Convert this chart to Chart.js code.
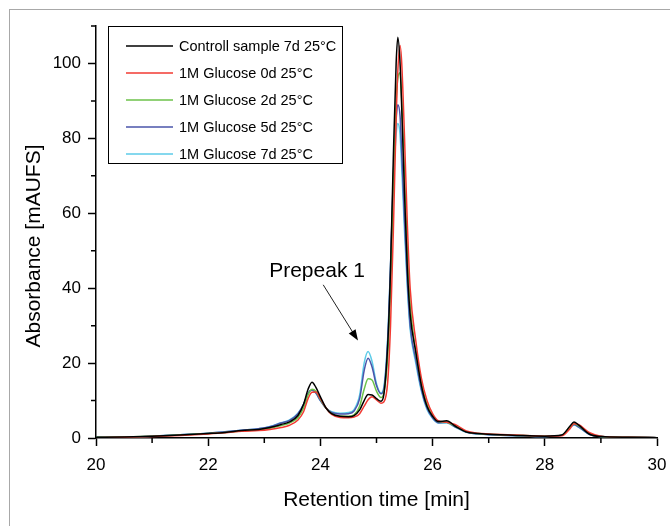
<!DOCTYPE html>
<html>
<head>
<meta charset="utf-8">
<title>Retention time chromatogram</title>
<script src="https://cdn.jsdelivr.net/npm/chart.js@4.4.1/dist/chart.umd.min.js"></script>
<style>
    html, body { margin: 0; padding: 0; background: #fff; }
    #wrap { position: relative; width: 670px; height: 526px; overflow: hidden; }
    #frame { position: absolute; left: 9px; top: 9px; width: 700px; height: 600px;
             border-left: 1.5px solid #a8a8a8; border-top: 1.5px solid #a8a8a8; }
    #myChart { position: absolute; left: 0; top: 0; }
</style>
</head>
<body>
<div id="wrap">
    <div id="frame"></div>
    <canvas id="myChart" width="670" height="526"></canvas>
</div>
<script>
const seriesLabels = ['Controll sample 7d 25°C', '1M Glucose 0d 25°C', '1M Glucose 2d 25°C', '1M Glucose 5d 25°C', '1M Glucose 7d 25°C'];
const seriesColors = ['#000000', '#f23a32', '#6cc24a', '#4a54aa', '#5ccbe8'];

// retention time [min]
const times = [20, 20.5, 21, 21.5, 22, 22.3, 22.6, 22.9, 23.1, 23.3, 23.45, 23.6, 23.7, 23.78, 23.85, 23.92, 24.0, 24.1, 24.2, 24.35, 24.5, 24.6, 24.7, 24.78, 24.85, 24.92, 25.0, 25.08, 25.13, 25.2, 25.25, 25.3, 25.35, 25.38, 25.42, 25.45, 25.5, 25.55, 25.6, 25.7, 25.8, 25.9, 26.0, 26.1, 26.25, 26.4, 26.6, 26.8, 27.0, 27.5, 28.0, 28.3, 28.45, 28.52, 28.6, 28.8, 29.0, 29.5, 30];

// absorbance [mAUFS]
const controll7d = [0.2, 0.3, 0.5, 0.8, 1.2, 1.5, 2.0, 2.3, 2.8, 3.6, 4.3, 6.0, 9.0, 13.0, 14.9, 13.5, 11.0, 8.0, 6.5, 5.8, 5.7, 6.0, 7.5, 10.0, 11.6, 11.5, 10.5, 9.8, 11.5, 25, 45, 75, 100, 107, 100, 88, 65, 45, 33, 23, 14, 8.5, 5.8, 4.4, 4.6, 3.2, 1.6, 1.2, 1.0, 0.7, 0.5, 0.8, 3.2, 4.3, 3.5, 1.0, 0.4, 0.2, 0.1];
const glucose0d = [0.1, 0.2, 0.4, 0.7, 1.1, 1.4, 1.8, 2.0, 2.3, 2.8, 3.4, 4.8, 7.0, 10.5, 12.2, 12.3, 10.5, 8.0, 6.3, 5.5, 5.4, 5.6, 6.5, 8.5, 10.2, 11.0, 10.2, 9.3, 9.6, 15, 30, 55, 85, 98, 104.8, 100, 80, 57, 40, 26, 16, 10, 6.5, 4.6, 4.2, 3.6, 1.9, 1.3, 1.1, 0.8, 0.5, 0.6, 2.5, 3.8, 3.6, 1.4, 0.5, 0.2, 0.1];
const glucose2d = [0.2, 0.3, 0.5, 0.8, 1.2, 1.5, 1.9, 2.2, 2.6, 3.3, 4.0, 5.5, 8.0, 11.5, 13.0, 12.5, 10.3, 8.0, 6.5, 5.8, 5.8, 6.2, 8.5, 13.0, 15.8, 15.5, 12.5, 10.8, 12.0, 22, 40, 68, 90, 96, 97.5, 90, 70, 50, 36, 23, 14.5, 9.0, 6.0, 4.4, 4.2, 3.2, 1.7, 1.2, 1.0, 0.7, 0.5, 0.7, 2.9, 3.8, 3.3, 1.1, 0.4, 0.2, 0.1];
const glucose5d = [0.2, 0.3, 0.5, 0.9, 1.3, 1.7, 2.1, 2.5, 3.0, 4.0, 4.7, 6.5, 9.0, 12.0, 12.8, 12.0, 10.0, 8.0, 6.8, 6.4, 6.5, 7.2, 10.5, 18.0, 21.3, 19.0, 14.0, 11.8, 13.0, 26, 46, 70, 85, 89, 86, 76, 58, 42, 30, 21, 13, 8.0, 5.4, 4.1, 4.2, 3.0, 1.6, 1.1, 0.9, 0.6, 0.4, 0.7, 2.9, 3.6, 3.0, 0.9, 0.4, 0.2, 0.1];
const glucose7d = [0.2, 0.3, 0.5, 0.9, 1.3, 1.7, 2.1, 2.5, 3.1, 4.1, 4.8, 6.6, 9.0, 11.8, 12.8, 12.0, 10.0, 8.0, 7.0, 6.6, 6.8, 7.6, 11.5, 20.0, 23.1, 20.5, 14.5, 12.0, 13.5, 27, 46, 68, 81, 84, 81, 72, 55, 40, 29, 20, 12.5, 7.6, 5.2, 4.0, 4.0, 2.9, 1.5, 1.1, 0.9, 0.6, 0.4, 0.7, 2.8, 3.5, 2.9, 0.9, 0.4, 0.2, 0.1];

const xTicks = [20, 22, 24, 26, 28, 30];
const yTicks = [0, 20, 40, 60, 80, 100];

const allSeries = [controll7d, glucose0d, glucose2d, glucose5d, glucose7d];
const fontFamily = '"Liberation Sans", Arial, sans-serif';

// arrow and text for the prepeak, in data units
const prepeakNote = { text: 'Prepeak 1', x: 23.94, y: 43.0, fromX: 24.05, fromY: 40.9, toX: 24.67, toY: 26.0 };

const extrasPlugin = {
    id: 'extras',
    afterDraw(chart) {
        const ctx = chart.ctx;
        const xs = chart.scales.x;
        const ys = chart.scales.y;
        const area = chart.chartArea;

        ctx.save();
        ctx.strokeStyle = '#000';
        ctx.lineWidth = 1.5;

        // minor ticks
        ctx.beginPath();
        for (let v = 21; v < 30; v += 2) {
            const px = xs.getPixelForValue(v);
            ctx.moveTo(px, area.bottom);
            ctx.lineTo(px, area.bottom + 5);
        }
        for (let v = 10; v <= 110; v += 20) {
            const py = ys.getPixelForValue(v);
            ctx.moveTo(area.left, py);
            ctx.lineTo(area.left - 5, py);
        }
        ctx.stroke();

        // y axis title
        ctx.fillStyle = '#000';
        ctx.font = '21px ' + fontFamily;
        ctx.textAlign = 'center';
        ctx.textBaseline = 'middle';
        ctx.translate(34, 246);
        ctx.rotate(-Math.PI / 2);
        ctx.fillText('Absorbance [mAUFS]', 0, 0);
        ctx.restore();

        // legend box
        ctx.save();
        ctx.strokeStyle = '#000';
        ctx.lineWidth = 1;
        ctx.strokeRect(108.5, 26.5, 234, 137);
        ctx.font = '14.5px ' + fontFamily;
        ctx.textBaseline = 'middle';
        ctx.textAlign = 'left';
        chart.data.datasets.forEach((ds, i) => {
            const rowY = 46 + i * 27;
            ctx.strokeStyle = ds.borderColor;
            ctx.lineWidth = 1.5;
            ctx.beginPath();
            ctx.moveTo(126, rowY);
            ctx.lineTo(173, rowY);
            ctx.stroke();
            ctx.fillStyle = '#000';
            ctx.fillText(ds.label, 179, rowY + 1);
        });
        ctx.restore();

        // prepeak note
        ctx.save();
        ctx.fillStyle = '#000';
        ctx.strokeStyle = '#222';
        ctx.font = '21px ' + fontFamily;
        ctx.textAlign = 'center';
        ctx.textBaseline = 'alphabetic';
        ctx.fillText(prepeakNote.text, xs.getPixelForValue(prepeakNote.x), ys.getPixelForValue(prepeakNote.y));
        const x1 = xs.getPixelForValue(prepeakNote.fromX), y1 = ys.getPixelForValue(prepeakNote.fromY);
        const x2 = xs.getPixelForValue(prepeakNote.toX), y2 = ys.getPixelForValue(prepeakNote.toY);
        const ang = Math.atan2(y2 - y1, x2 - x1);
        ctx.lineWidth = 1;
        ctx.beginPath();
        ctx.moveTo(x1, y1);
        ctx.lineTo(x2 - 8 * Math.cos(ang), y2 - 8 * Math.sin(ang));
        ctx.stroke();
        ctx.beginPath();
        ctx.moveTo(x2, y2);
        ctx.lineTo(x2 - 11 * Math.cos(ang) + 4 * Math.sin(ang), y2 - 11 * Math.sin(ang) - 4 * Math.cos(ang));
        ctx.lineTo(x2 - 11 * Math.cos(ang) - 4 * Math.sin(ang), y2 - 11 * Math.sin(ang) + 4 * Math.cos(ang));
        ctx.closePath();
        ctx.fill();
        ctx.restore();
    }
};

document.addEventListener('DOMContentLoaded', function() {

    const canvas = document.getElementById('myChart');

    const datasets = allSeries.map((values, i) => ({
        label: seriesLabels[i],
        data: times.map((t, j) => ({ x: t, y: values[j] })),
        borderColor: seriesColors[i],
        borderWidth: 1.5,
        pointRadius: 0,
        fill: false,
        cubicInterpolationMode: 'monotone'
    }));

    new Chart(canvas, {
        type: 'line',
        data: { datasets: datasets },
        plugins: [extrasPlugin],
        options: {
            responsive: false,
            animation: false,
            layout: { padding: { top: 26, right: 13, left: 0, bottom: 0 } },
            plugins: {
                legend: { display: false },
                tooltip: { enabled: false }
            },
            scales: {
                x: {
                    type: 'linear',
                    min: 20,
                    max: 30,
                    afterBuildTicks: scale => { scale.ticks = xTicks.map(v => ({ value: v })); },
                    afterFit: scale => {
                        scale.height = 88;
                        scale.paddingLeft = 0;
                        scale.paddingRight = 0;
                    },
                    grid: { drawOnChartArea: false, drawTicks: true, tickLength: 8, tickWidth: 1.5, tickColor: '#000' },
                    border: { display: true, color: '#000', width: 1.5 },
                    ticks: { color: '#000', padding: 9, maxRotation: 0, font: { family: fontFamily, size: 17 } },
                    title: { display: true, text: 'Retention time [min]', color: '#000', padding: { bottom: 13 }, font: { family: fontFamily, size: 21 } }
                },
                y: {
                    min: 0,
                    max: 110,
                    afterBuildTicks: scale => { scale.ticks = yTicks.map(v => ({ value: v })); },
                    afterFit: scale => {
                        scale.width = 96;
                        scale.paddingTop = 0;
                        scale.paddingBottom = 0;
                    },
                    grid: { drawOnChartArea: false, drawTicks: true, tickLength: 8, tickWidth: 1.5, tickColor: '#000' },
                    border: { display: true, color: '#000', width: 1.5 },
                    ticks: { color: '#000', padding: 7, font: { family: fontFamily, size: 17 } }
                }
            }
        }
    });

});
</script>
</body>
</html>
